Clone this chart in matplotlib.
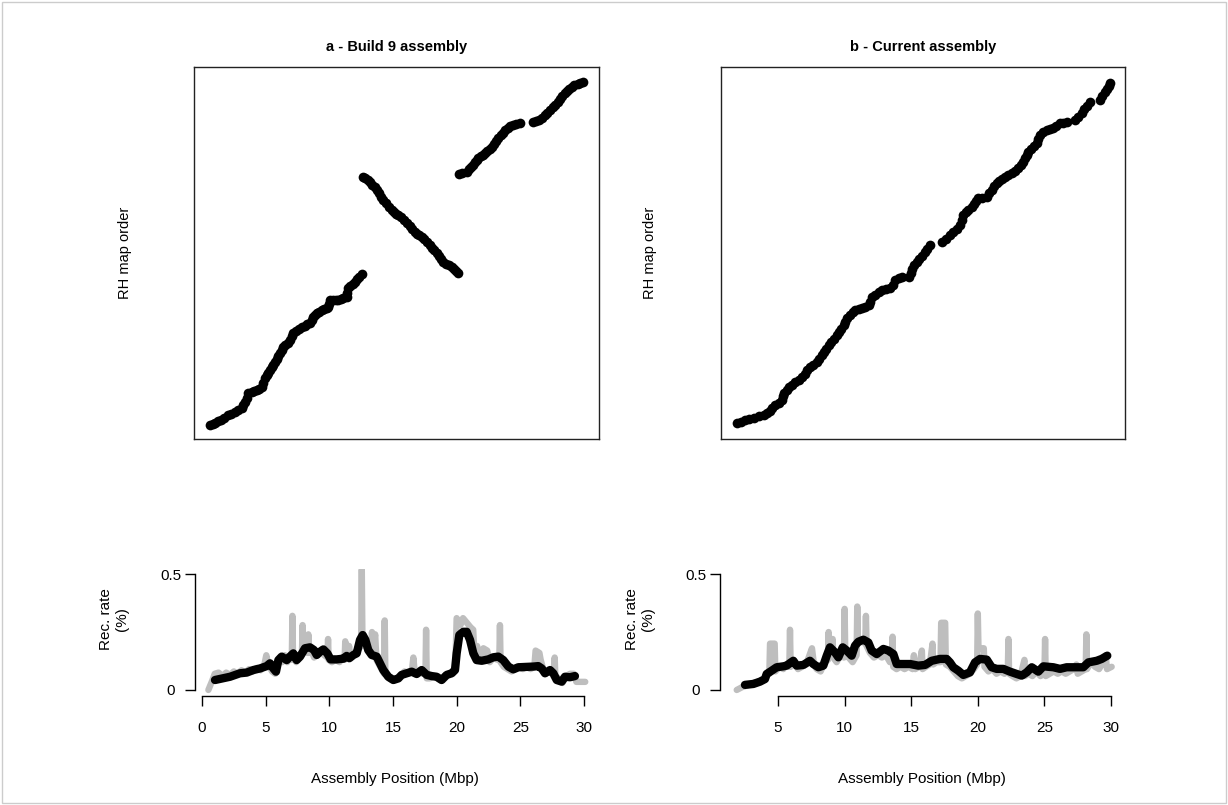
import matplotlib
matplotlib.use("Agg")
import matplotlib.pyplot as plt
from matplotlib.patches import Rectangle

plt.rcParams['font.family'] = ['Liberation Sans', 'DejaVu Sans']

# ---------------- data ----------------
titles = ["a - Build 9 assembly", "b - Current assembly"]
ylabel_top = "RH map order"
ylabel_bottom = "Rec. rate\n(%)"
xlabel = "Assembly Position (Mbp)"

# Panel a: marker position (Mbp) vs RH map order
a_pos = [0.63, 0.85, 1.05, 1.28, 1.5, 1.75, 2.07, 2.3, 2.59, 2.85, 3.12, 3.25, 3.38, 3.5, 3.64,
         3.9, 4.1, 4.30, 4.5, 4.69, 4.8, 4.95, 5.1, 5.2, 5.34, 5.47, 5.6, 5.73, 5.87, 6.0, 6.13,
         6.25, 6.38, 6.55, 6.78, 6.9, 7.05, 7.17, 7.4, 7.6, 7.83, 8.05, 8.25, 8.48, 8.6, 8.75,
         8.88, 9.05, 9.2, 9.40, 9.6, 9.8, 9.92, 10.0, 10.05, 10.3, 10.5, 10.70, 10.9, 11.1, 11.36,
         11.4, 11.49, 11.65, 11.85, 12.02, 12.2, 12.35, 12.54,
         12.62, 12.8, 13.0, 13.19, 13.37, 13.55, 13.72, 13.9, 14.07, 14.24, 14.45, 14.68, 14.90,
         15.1, 15.25, 15.42, 15.62, 15.85, 16.08, 16.3, 16.5, 16.73, 16.9, 17.08, 17.25, 17.45,
         17.68, 17.91, 18.1, 18.25, 18.43, 18.6, 18.78, 18.95, 19.15, 19.4, 19.61, 19.8, 19.97, 20.13,
         20.21, 20.45, 20.79, 20.98, 21.15, 21.31, 21.45, 21.58, 21.70, 21.9, 22.05, 22.23, 22.4,
         22.58, 22.75, 22.9, 23.08, 23.27, 23.45, 23.62, 23.80, 24.0, 24.22, 24.45, 24.7, 24.97,
         26.02, 26.25, 26.45, 26.68, 26.9, 27.1, 27.33, 27.55, 27.75, 27.98, 28.15, 28.3, 28.51,
         28.7, 28.85, 29.04, 29.25, 29.5, 29.72, 29.95]
a_rank = [1, 2, 3, 5, 6, 8, 11, 12, 14, 16, 18, 21, 24, 28, 33,
          34, 35, 36, 37, 39, 43, 48, 51, 53, 56, 59, 61, 64, 67, 70, 73,
          76, 79, 81, 83, 86, 90, 93, 95, 97, 99, 100, 102, 103, 106, 109,
          111, 113, 114, 116, 117, 118, 119, 122, 126, 126, 126, 126, 127, 128, 129,
          133, 138, 140, 142, 144, 147, 149, 152,
          249, 248, 246, 244, 241, 239, 236, 233, 229, 226, 223, 219, 216,
          214, 212, 211, 209, 206, 203, 200, 197, 194, 192, 191, 189, 187,
          184, 181, 178, 176, 173, 170, 167, 164, 162, 161, 159, 157, 155, 153,
          252, 253, 254, 257, 259, 261, 264, 266, 268, 270, 271, 273, 275,
          277, 279, 282, 285, 288, 291, 293, 296, 298, 300, 301, 302, 303,
          304, 305, 306, 308, 311, 313, 316, 319, 321, 324, 327, 330, 333,
          335, 337, 339, 341, 342, 343, 344]

# Panel b: marker position (Mbp) vs RH map order
b_pos = [1.92, 2.2, 2.55, 2.85, 3.18, 3.55, 3.93, 4.2, 4.4, 4.55, 4.8, 5.05, 5.30, 5.38, 5.43,
         5.65, 5.85, 6.05, 6.3, 6.55, 6.80, 7.0, 7.2, 7.42, 7.65, 7.93, 8.1, 8.30, 8.45, 8.62,
         8.81, 9.0, 9.2, 9.43, 9.6, 9.75, 9.93, 10.05, 10.18, 10.4, 10.6, 10.80, 11.05, 11.31,
         11.55, 11.81, 11.9, 12.06, 12.3, 12.55, 12.81, 13.1, 13.43, 13.6, 13.81, 14.05, 14.31,
         14.81, 14.95, 15.05, 15.19, 15.4, 15.6, 15.81, 16.0, 16.2, 16.43,
         17.29, 17.6, 17.91, 18.15, 18.4, 18.66, 18.8, 18.91, 19.1, 19.3, 19.54, 19.7, 19.85,
         20.04, 20.35, 20.67, 20.85, 21.04, 21.2, 21.42, 21.6, 21.8, 22.04, 22.3, 22.55, 22.8,
         23.04, 23.25, 23.42, 23.55, 23.68, 23.79, 24.0, 24.2, 24.42, 24.55, 24.67, 24.9, 25.17,
         25.4, 25.67, 25.9, 26.17, 26.4, 26.67,
         27.30, 27.55, 27.80, 28.0, 28.2, 28.43,
         29.18, 29.35, 29.55, 29.7, 29.82, 29.92]
b_rank = [3, 4, 6, 7, 8, 10, 11, 13, 15, 18, 21, 23, 26, 30, 33,
          36, 39, 41, 44, 46, 49, 52, 56, 59, 61, 64, 67, 71, 74, 77,
          81, 84, 87, 91, 94, 97, 101, 104, 108, 111, 114, 116, 117, 118,
          119, 121, 124, 129, 131, 134, 136, 137, 138, 141, 146, 148, 149,
          149, 153, 157, 161, 164, 167, 170, 174, 177, 181,
          184, 187, 191, 194, 197, 201, 206, 211, 214, 216, 219, 222, 225,
          228, 228, 229, 233, 236, 240, 243, 245, 247, 249, 251, 253, 255,
          258, 261, 264, 268, 271, 274, 277, 280, 283, 287, 291, 294, 296,
          297, 298, 300, 303, 303, 304,
          306, 309, 313, 317, 320, 324,
          326, 330, 334, 337, 340, 343]

# Panel a: recombination rate, raw (grey) and smoothed (black)
a_raw_x = [0.5, 0.8, 1.0, 1.3, 1.6, 1.9, 2.2, 2.5, 2.8, 3.1, 3.4, 3.7, 4.0, 4.3, 4.6, 4.9,
           5.05, 5.2, 5.5, 5.75, 5.9, 6.1, 6.3, 6.5, 6.7, 6.9, 7.05, 7.1, 7.15, 7.4, 7.6, 7.85,
           7.9, 7.95, 8.15, 8.3, 8.35, 8.4, 8.6, 8.8, 9.0, 9.3, 9.6, 9.85, 9.9, 9.95, 10.2,
           10.5, 10.8, 11.0, 11.2, 11.25, 11.3, 11.5, 11.55, 11.6, 11.9, 12.2, 12.5, 12.55,
           12.6, 12.8, 13.0, 13.3, 13.35, 13.4, 13.6, 13.7, 14.0, 14.3, 14.35, 14.4, 14.7,
           15.0, 15.3, 15.6, 15.9, 16.2, 16.5, 16.6, 16.7, 17.0, 17.3, 17.55, 17.6, 17.65,
           17.9, 18.2, 18.5, 18.8, 19.1, 19.4, 19.7, 19.9, 20.0, 20.3, 20.5, 20.8, 21.1, 21.3,
           21.4, 21.6, 21.9, 22.1, 22.4, 22.6, 22.9, 23.2, 23.35, 23.4, 23.45, 23.7, 24.0,
           24.3, 24.6, 24.9, 25.2, 25.5, 25.8, 26.1, 26.2, 26.5, 26.6, 26.8, 27.0, 27.3, 27.6,
           27.7, 27.75, 28.0, 28.3, 28.6, 28.9, 29.2, 29.4, 29.8, 30.1]
a_raw_y = [0.0, 0.04, 0.07, 0.075, 0.06, 0.075, 0.065, 0.08, 0.07, 0.085, 0.075, 0.09, 0.08,
           0.095, 0.085, 0.11, 0.15, 0.11, 0.08, 0.07, 0.11, 0.14, 0.12, 0.15, 0.12, 0.15, 0.13,
           0.32, 0.14, 0.12, 0.15, 0.16, 0.28, 0.17, 0.2, 0.16, 0.24, 0.16, 0.17, 0.14, 0.15,
           0.17, 0.15, 0.14, 0.22, 0.13, 0.12, 0.13, 0.12, 0.14, 0.13, 0.21, 0.14, 0.14, 0.19,
           0.14, 0.16, 0.17, 0.19, 0.52, 0.22, 0.2, 0.17, 0.16, 0.25, 0.16, 0.24, 0.13, 0.1,
           0.07, 0.30, 0.07, 0.05, 0.04, 0.05, 0.06, 0.08, 0.07, 0.09, 0.14, 0.08, 0.08, 0.07,
           0.07, 0.26, 0.05, 0.05, 0.06, 0.05, 0.04, 0.06, 0.07, 0.08, 0.1, 0.31, 0.28, 0.31,
           0.29, 0.27, 0.26, 0.15, 0.19, 0.13, 0.18, 0.17, 0.12, 0.14, 0.13, 0.13, 0.28, 0.12,
           0.1, 0.09, 0.08, 0.09, 0.1, 0.09, 0.1, 0.09, 0.1, 0.17, 0.16, 0.13, 0.09, 0.07,
           0.08, 0.07, 0.14, 0.06, 0.05, 0.03, 0.06, 0.07, 0.07, 0.035, 0.035, 0.035]
a_smooth_x = [1.02, 2.20, 2.98, 3.51, 4.03, 4.56, 5.08, 5.34, 5.60, 5.81, 6.00, 6.26, 6.65,
              6.91, 7.17, 7.43, 7.70, 8.09, 8.48, 8.80, 9.01, 9.27, 9.53, 9.84, 10.10, 10.58,
              11.10, 11.36, 11.57, 11.89, 12.15, 12.41, 12.62, 12.83, 13.06, 13.33, 13.72,
              13.98, 14.24, 14.63, 15.03, 15.42, 15.68, 16.08, 16.47, 16.86, 17.25, 17.65,
              18.04, 18.43, 18.82, 19.22, 19.61, 19.87, 20.00, 20.21, 20.52, 20.79, 21.05,
              21.31, 21.57, 21.97, 22.49, 22.88, 23.27, 23.66, 24.06, 24.45, 24.84, 26.02,
              26.41, 26.68, 26.94, 27.33, 27.59, 27.86, 28.25, 28.51, 28.90, 29.29]
a_smooth_y = [0.043, 0.057, 0.072, 0.075, 0.086, 0.093, 0.103, 0.115, 0.093, 0.079, 0.129,
              0.144, 0.129, 0.144, 0.158, 0.129, 0.144, 0.180, 0.184, 0.172, 0.151, 0.165,
              0.175, 0.158, 0.132, 0.132, 0.135, 0.147, 0.137, 0.151, 0.158, 0.216, 0.237,
              0.216, 0.172, 0.151, 0.144, 0.115, 0.086, 0.057, 0.043, 0.050, 0.065, 0.072,
              0.079, 0.069, 0.086, 0.065, 0.060, 0.057, 0.043, 0.065, 0.072, 0.086, 0.158,
              0.237, 0.251, 0.251, 0.216, 0.158, 0.129, 0.126, 0.132, 0.141, 0.144, 0.129,
              0.101, 0.089, 0.098, 0.101, 0.103, 0.093, 0.072, 0.086, 0.072, 0.043, 0.036,
              0.057, 0.055, 0.060]

# Panel b: recombination rate, raw (grey) and smoothed (black)
b_raw_x = [1.9, 2.3, 2.7, 3.1, 3.5, 3.9, 4.2, 4.35, 4.4, 4.75, 4.8, 5.1, 5.4, 5.6, 5.85, 5.9,
           5.95, 6.2, 6.5, 6.8, 7.1, 7.3, 7.55, 7.7, 7.9, 8.2, 8.5, 8.75, 8.8, 8.85, 9.1, 9.15,
           9.4, 9.7, 9.95, 10.0, 10.05, 10.3, 10.6, 10.9, 10.95, 11.0, 11.3, 11.55, 11.6, 11.65,
           11.9, 12.2, 12.5, 12.8, 13.1, 13.4, 13.55, 13.6, 13.65, 13.9, 14.2, 14.5, 14.8, 15.1,
           15.2, 15.3, 15.6, 15.8, 15.85, 16.1, 16.4, 16.6, 16.65, 16.9, 17.2, 17.25, 17.55,
           17.6, 17.9, 18.2, 18.5, 18.8, 19.1, 19.4, 19.7, 19.95, 20.0, 20.05, 20.45, 20.5,
           20.8, 21.1, 21.4, 21.7, 22.0, 22.25, 22.3, 22.35, 22.6, 22.9, 23.2, 23.5, 23.55,
           23.8, 24.1, 24.4, 24.7, 25.0, 25.05, 25.1, 25.4, 25.7, 26.0, 26.3, 26.6, 26.9, 27.2,
           27.4, 27.5, 27.8, 28.1, 28.15, 28.2, 28.5, 28.8, 29.1, 29.4, 29.6, 29.7, 30.05]
b_raw_y = [0.0, 0.012, 0.02, 0.03, 0.035, 0.045, 0.065, 0.07, 0.2, 0.2, 0.08, 0.1, 0.09, 0.11,
           0.1, 0.26, 0.1, 0.12, 0.09, 0.1, 0.11, 0.14, 0.18, 0.11, 0.09, 0.08, 0.12, 0.13,
           0.25, 0.15, 0.22, 0.14, 0.12, 0.15, 0.14, 0.35, 0.16, 0.14, 0.12, 0.15, 0.36, 0.2,
           0.21, 0.2, 0.32, 0.19, 0.16, 0.14, 0.15, 0.14, 0.15, 0.12, 0.13, 0.23, 0.1, 0.09,
           0.1, 0.09, 0.1, 0.09, 0.15, 0.09, 0.1, 0.17, 0.09, 0.1, 0.11, 0.2, 0.11, 0.12, 0.12,
           0.29, 0.29, 0.11, 0.1, 0.08, 0.06, 0.05, 0.06, 0.07, 0.09, 0.11, 0.33, 0.18, 0.18,
           0.1, 0.08, 0.09, 0.07, 0.08, 0.07, 0.08, 0.22, 0.07, 0.06, 0.05, 0.06, 0.13, 0.06,
           0.07, 0.06, 0.08, 0.06, 0.07, 0.22, 0.06, 0.07, 0.08, 0.07, 0.08, 0.07, 0.08, 0.09,
           0.11, 0.07, 0.08, 0.09, 0.24, 0.09, 0.12, 0.1, 0.09, 0.12, 0.15, 0.09, 0.1]
b_smooth_x = [2.52, 3.15, 3.65, 4.02, 4.15, 4.52, 4.90, 5.40, 5.65, 5.90, 6.15, 6.40, 6.90,
              7.40, 7.65, 8.03, 8.40, 8.66, 8.90, 9.28, 9.53, 9.86, 10.16, 10.53, 10.78, 11.03,
              11.41, 11.78, 12.03, 12.41, 12.91, 13.28, 13.66, 13.91, 14.41, 14.91, 15.53,
              16.04, 16.54, 17.16, 17.66, 17.91, 18.16, 18.54, 18.91, 19.41, 19.79, 20.17,
              20.67, 21.04, 21.42, 21.91, 22.42, 22.92, 23.30, 23.67, 24.05, 24.54, 24.92,
              25.67, 26.17, 26.67, 27.92, 28.30, 28.93, 29.30, 29.72]
b_smooth_y = [0.022, 0.026, 0.036, 0.047, 0.069, 0.083, 0.098, 0.102, 0.105, 0.116, 0.126,
              0.105, 0.108, 0.126, 0.112, 0.098, 0.105, 0.148, 0.184, 0.162, 0.141, 0.184,
              0.170, 0.148, 0.191, 0.208, 0.217, 0.205, 0.170, 0.155, 0.177, 0.170, 0.155,
              0.112, 0.112, 0.112, 0.105, 0.108, 0.126, 0.134, 0.134, 0.119, 0.098, 0.083,
              0.065, 0.076, 0.119, 0.134, 0.131, 0.098, 0.091, 0.091, 0.079, 0.069, 0.062,
              0.076, 0.098, 0.079, 0.102, 0.098, 0.091, 0.098, 0.098, 0.119, 0.126, 0.134,
              0.148]

rate_ticks = [0, 0.5]
rate_ticklabels = ["0", "0.5"]
a_xticks = [0, 5, 10, 15, 20, 25, 30]
b_xticks = [5, 10, 15, 20, 25, 30]

# ---------------- figure ----------------
W, H = 1228, 805
fig = plt.figure(figsize=(W / 100, H / 100), dpi=100)
FS = 11


def rect(x0, y0, x1, y1):
    return [x0 / W, 1 - y1 / H, (x1 - x0) / W, (y1 - y0) / H]


def ftext(x, y, s, **kw):
    fig.text(x / W, 1 - y / H, s, ha="center", va="center", **kw)


panels = [
    dict(top=rect(194, 67, 599, 439), bot=rect(195, 569, 599, 696),
         xlim_top=(-0.63, 31.18), xlim_bot=(-0.55, 31.18),
         pos=a_pos, rank=a_rank, rx=a_raw_x, ry=a_raw_y, sx=a_smooth_x, sy=a_smooth_y,
         xticks=a_xticks, title=titles[0],
         title_x=396.5, rh_x=125, rec_x=114, xl_x=395),
    dict(top=rect(721, 67, 1125, 439), bot=rect(720, 569, 1125, 696),
         xlim_top=(0.72, 31.05), xlim_bot=(0.645, 31.05),
         pos=b_pos, rank=b_rank, rx=b_raw_x, ry=b_raw_y, sx=b_smooth_x, sy=b_smooth_y,
         xticks=b_xticks, title=titles[1],
         title_x=923, rh_x=650, rec_x=640, xl_x=922),
]

for p in panels:
    ax = fig.add_axes(p["top"])
    ax.plot(p["pos"], p["rank"], linestyle="none", marker="o", markersize=7,
            color="black", markeredgewidth=0)
    ax.set_xlim(*p["xlim_top"])
    ax.set_ylim(-13, 359)
    ax.set_xticks([])
    ax.set_yticks([])
    for s in ax.spines.values():
        s.set_linewidth(1.0)
        s.set_color("#222222")
    ftext(p["title_x"], 47, p["title"], fontsize=10.5, fontweight="bold")
    ftext(p["rh_x"], 253, ylabel_top, fontsize=10.5, rotation=90)

    bx = fig.add_axes(p["bot"])
    bx.plot(p["rx"], p["ry"], color="#bebebe", linewidth=4.6,
            solid_capstyle="round", solid_joinstyle="round")
    bx.plot(p["sx"], p["sy"], color="black", linewidth=6.0,
            solid_capstyle="round", solid_joinstyle="round")
    bx.set_xlim(*p["xlim_bot"])
    bx.set_ylim(-0.026, 0.522)
    for side in ("top", "right"):
        bx.spines[side].set_visible(False)
    bx.spines["left"].set_bounds(0, 0.5)
    bx.spines["bottom"].set_bounds(p["xticks"][0], p["xticks"][-1])
    bx.spines["left"].set_linewidth(1.0)
    bx.spines["bottom"].set_linewidth(1.0)
    bx.set_yticks(rate_ticks)
    bx.set_yticklabels(rate_ticklabels, ha="center")
    bx.set_xticks(p["xticks"])
    bx.set_xticklabels([str(t) for t in p["xticks"]])
    bx.tick_params(length=7.2, width=1.0, labelsize=FS)
    bx.tick_params(axis="x", pad=11)
    bx.tick_params(axis="y", pad=10)
    ftext(p["rec_x"], 619, ylabel_bottom, fontsize=FS, rotation=90, linespacing=1.25)
    ftext(p["xl_x"], 779, xlabel, fontsize=FS)

fig.add_artist(Rectangle((0.002, 0.002), 0.996, 0.996, transform=fig.transFigure,
                         fill=False, edgecolor="#cccccc", linewidth=1.0))

fig.savefig("out.png", dpi=100)
